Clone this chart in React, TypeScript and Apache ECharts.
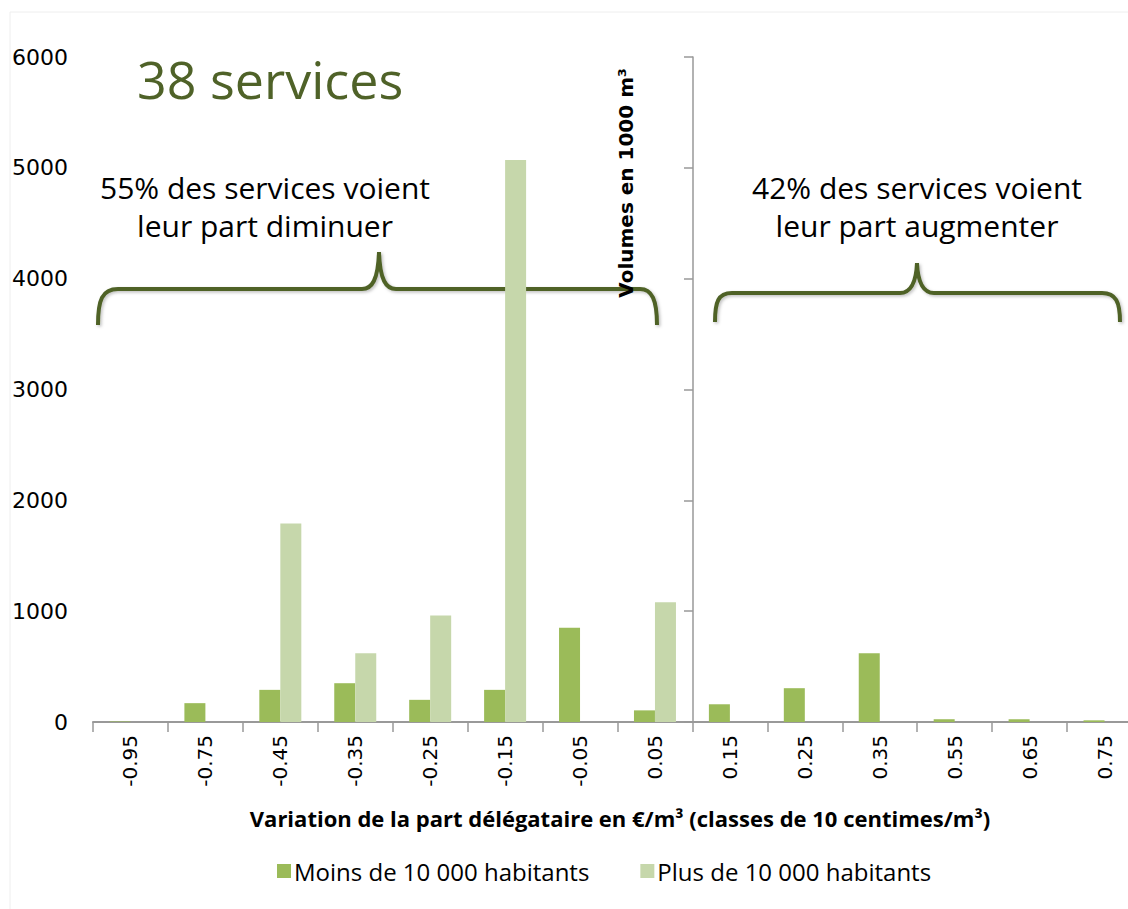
import React, { useEffect, useRef } from "react";
import * as echarts from "echarts";

const categories = ["-0.95", "-0.75", "-0.45", "-0.35", "-0.25", "-0.15", "-0.05", "0.05", "0.15", "0.25", "0.35", "0.55", "0.65", "0.75"];
const moinsDe10000 = [5, 170, 290, 350, 200, 290, 850, 105, 160, 305, 620, 25, 25, 15];
const plusDe10000 = [0, 0, 1790, 620, 960, 5070, 0, 1080, 0, 0, 0, 0, 0, 0];
const seriesNames = ["Moins de 10 000 habitants", "Plus de 10 000 habitants"];
const yMin = 0;
const yMax = 6000;
const yStep = 1000;
const titleText = "38 services";
const leftNote = ["55% des services voient", "leur part diminuer"];
const rightNote = ["42% des services voient", "leur part augmenter"];
const yName = "Volumes en 1000 m³";
const xName = "Variation de la part délégataire en €/m³ (classes de 10 centimes/m³)";

const braceLeftD =
  "M98,325 C98,300 102,289 118,289 L362,289 C372,289 378,280 379,252 C380,280 386,289 396,289 L640,289 C652,289 657,300 657,325";
const braceRightD =
  "M715,322 C715,302 718,293 732,293 L900,293 C910,293 916,285 917,263 C918,285 924,293 934,293 L1102,293 C1116,293 1120,302 1120,322";

let registered = false;
function registerShapes() {
  if (registered) return;
  echarts.graphic.registerShape("braceLeft", (echarts.graphic as any).extendPath(braceLeftD, {}));
  echarts.graphic.registerShape("braceRight", (echarts.graphic as any).extendPath(braceRightD, {}));
  registered = true;
}

export default function App() {
  const ref = useRef<HTMLDivElement>(null);
  useEffect(() => {
    if (!ref.current) return;
    registerShapes();
    const chart = echarts.init(ref.current, undefined, { renderer: "svg" });
    const olive = "#4f6228";
    const noteFont = "30px 'Open Sans', Lato, sans-serif";
    const shadow = { shadowColor: "rgba(0,0,0,0.25)", shadowBlur: 3, shadowOffsetX: 1.5, shadowOffsetY: 1.5 };
    chart.setOption({
      animation: false,
      backgroundColor: "#ffffff",
      grid: { left: 93, top: 57, width: 1049, height: 665, containLabel: false },
      legend: {
        left: 272,
        top: 854,
        itemWidth: 14,
        itemHeight: 14,
        itemGap: 51,
        icon: "rect",
        textStyle: { fontFamily: "'Open Sans', Lato, sans-serif", fontSize: 24, color: "#000", padding: [0, 0, 0, -2] },
        data: seriesNames,
      },
      xAxis: {
        type: "category",
        data: categories,
        axisLine: { lineStyle: { color: "#999", width: 2 } },
        axisTick: { show: true, length: 10, lineStyle: { color: "#999", width: 1.5 } },
        axisLabel: { rotate: 90, margin: 13, color: "#000", fontSize: 20, fontFamily: "'DejaVu Sans', sans-serif", interval: 0 },
      },
      yAxis: [
        {
          type: "value",
          min: yMin,
          max: yMax,
          interval: yStep,
          axisLine: { show: false },
          axisTick: { show: false },
          splitLine: { show: false },
          axisLabel: { margin: 25, color: "#000", fontSize: 22, fontFamily: "'DejaVu Sans', sans-serif", formatter: (v: number) => String(v) },
        },
        {
          type: "value",
          position: "left",
          offset: -600,
          min: yMin,
          max: yMax,
          interval: yStep,
          axisLine: { show: true, lineStyle: { color: "#999", width: 1.5 } },
          axisTick: { show: true, length: 9, lineStyle: { color: "#999", width: 1.5 } },
          splitLine: { show: false },
          axisLabel: { show: false },
        },
      ],
      series: [
        {
          name: seriesNames[0],
          type: "bar",
          data: moinsDe10000,
          barWidth: 21,
          barGap: "0%",
          itemStyle: { color: "#9bbb59" },
        },
        {
          name: seriesNames[1],
          type: "bar",
          data: plusDe10000,
          barWidth: 21,
          barGap: "0%",
          itemStyle: { color: "#c6d7ab" },
        },
      ],
      graphic: [
        { type: "rect", shape: { x: 10, y: 12, width: 1200, height: 1000 }, style: { fill: "none", stroke: "#eeeeee", lineWidth: 1 }, silent: true },
        {
          type: "text",
          x: 137,
          y: 78,
          style: { text: titleText, fill: olive, font: "52px 'Open Sans', Lato, sans-serif", align: "left", verticalAlign: "middle", ...shadow },
        },
        { type: "text", x: 265, y: 187, style: { text: leftNote[0], fill: "#000", font: noteFont, align: "center", verticalAlign: "middle", ...shadow } },
        { type: "text", x: 265, y: 225, style: { text: leftNote[1], fill: "#000", font: noteFont, align: "center", verticalAlign: "middle", ...shadow } },
        { type: "text", x: 917, y: 187, style: { text: rightNote[0], fill: "#000", font: noteFont, align: "center", verticalAlign: "middle", ...shadow } },
        { type: "text", x: 917, y: 225, style: { text: rightNote[1], fill: "#000", font: noteFont, align: "center", verticalAlign: "middle", ...shadow } },
        { type: "braceLeft", x: 0, y: 0, style: { fill: "none", stroke: olive, lineWidth: 4, ...shadow } },
        { type: "braceRight", x: 0, y: 0, style: { fill: "none", stroke: olive, lineWidth: 4, ...shadow } },
        {
          type: "text",
          x: 626,
          y: 183,
          rotation: Math.PI / 2,
          style: { text: yName, fill: "#000", font: "bold 20px 'DejaVu Sans', sans-serif", align: "center", verticalAlign: "middle" },
        },
        {
          type: "text",
          x: 620,
          y: 818,
          style: { text: xName, fill: "#000", font: "bold 22px 'Open Sans', Lato, sans-serif", align: "center", verticalAlign: "middle" },
        },
      ],
    });
    return () => chart.dispose();
  }, []);
  return <div ref={ref} style={{ position: "fixed", left: 0, top: 0, width: 1160, height: 909 }} />;
}
